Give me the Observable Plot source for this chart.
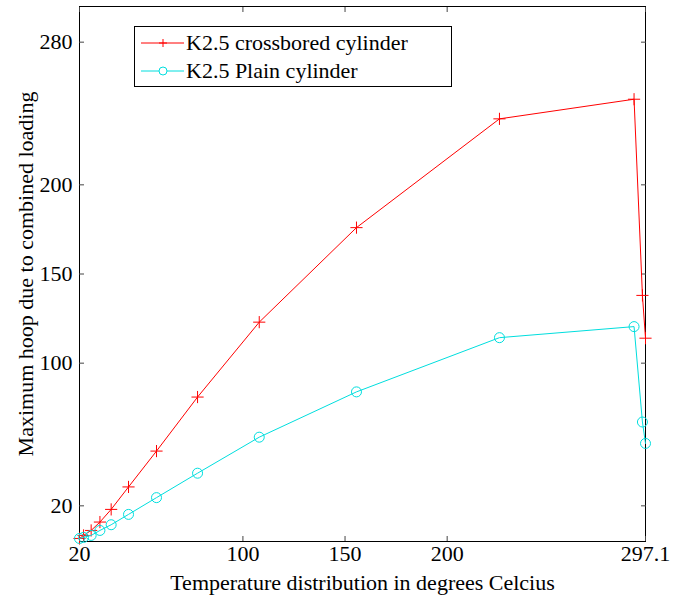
<!DOCTYPE html>
<html><head><meta charset="utf-8">
<script src="https://cdn.jsdelivr.net/npm/d3@7"></script>
<script src="https://cdn.jsdelivr.net/npm/@observablehq/plot@0.6"></script>
<style>
body{margin:0;background:#fff;font-family:'Liberation Serif', serif;font-size:22px;}
#wrap{position:relative;width:678px;height:599px;overflow:hidden;}
#wrap svg text{font-family:'Liberation Serif', serif !important;}
#legend{position:absolute;left:134px;top:26px;width:316px;height:59px;border:1px solid #000;background:#fff;}
.row{position:absolute;left:0;height:28px;line-height:28px;white-space:nowrap;}
.row svg{position:absolute;left:0;top:0;}
.row span{position:absolute;left:51px;top:0;}
</style></head><body><div id="wrap"></div>
<script>
const temperature = [20, 22, 25.7, 30, 35.5, 44, 57.7, 77.8, 108, 155.6, 225.6, 291.5, 295.6, 297.1];
const crossbored = [1.7, 3.4, 6.2, 10.9, 18, 30.6, 50.7, 81, 123, 176, 237, 248, 138, 114];
const plain = [1.7, 2.3, 3.4, 6.2, 9.4, 15.2, 24.6, 38.3, 58.5, 83.9, 114.3, 120.5, 67, 55];
const xTicks = [20, 100, 150, 200, 297.1];
const yTicks = [20, 100, 150, 200, 280];
const seriesNames = ["K2.5 crossbored cylinder", "K2.5 Plain cylinder"];
const seriesColors = ["#ff0000", "#00dede"];

const FONT = "'Liberation Serif', serif";
const redData = temperature.map((t, i) => ({t, v: crossbored[i]}));
const cyanData = temperature.map((t, i) => ({t, v: plain[i]}));
const fmt = d => String(d);

const chart = Plot.plot({
  width: 678, height: 599,
  marginLeft: 79, marginRight: 33, marginTop: 6, marginBottom: 58,
  style: {fontFamily: FONT, fontSize: "22px", background: "#fff", color: "#000"},
  x: {domain: [20, 297.1]},
  y: {domain: [0, 300]},
  marks: [
    Plot.frame({stroke: "#000", strokeWidth: 1}),
    Plot.axisX(xTicks, {tickSize: 0, tickPadding: 4, tickFormat: fmt, label: "Temperature distribution in degrees Celcius", labelAnchor: "center", labelArrow: false, labelOffset: 48}),
    Plot.axisX(xTicks, {tickSize: -5, tickFormat: () => "", label: null, stroke: "#444"}),
    Plot.axisX(xTicks, {anchor: "top", tickSize: -5, tickFormat: () => "", label: null, stroke: "#444"}),
    Plot.axisY(yTicks, {tickSize: 0, tickPadding: 7, tickFormat: fmt, label: "Maximum hoop due to combined loading", labelAnchor: "center", labelArrow: false, labelOffset: 62}),
    Plot.axisY(yTicks, {tickSize: -5, tickFormat: () => "", label: null, stroke: "#444"}),
    Plot.axisY(yTicks, {anchor: "right", tickSize: -5, tickFormat: () => "", label: null, stroke: "#444"}),
    Plot.line(redData, {x: "t", y: "v", stroke: seriesColors[0], strokeWidth: 1}),
    Plot.dot(redData, {x: "t", y: "v", symbol: "plus", stroke: seriesColors[0], fill: "none", r: 4, strokeWidth: 1}),
    Plot.line(cyanData, {x: "t", y: "v", stroke: seriesColors[1], strokeWidth: 1}),
    Plot.dot(cyanData, {x: "t", y: "v", symbol: "circle", stroke: seriesColors[1], fill: "none", r: 5, strokeWidth: 1})
  ]
});
const wrap = document.getElementById("wrap");
wrap.appendChild(chart);

const legend = document.createElement("div");
legend.id = "legend";
const ns = "http://www.w3.org/2000/svg";
seriesNames.forEach((name, i) => {
  const row = document.createElement("div");
  row.className = "row";
  row.style.top = (2 + i * 28) + "px";
  row.style.width = "316px";
  const s = document.createElementNS(ns, "svg");
  s.setAttribute("width", 50); s.setAttribute("height", 28);
  const cy = 14;
  const line = document.createElementNS(ns, "line");
  line.setAttribute("x1", 6); line.setAttribute("x2", 49);
  line.setAttribute("y1", cy); line.setAttribute("y2", cy);
  line.setAttribute("stroke", seriesColors[i]);
  s.appendChild(line);
  if (i === 0) {
    const p = document.createElementNS(ns, "path");
    p.setAttribute("d", `M24,${cy}H32M28,${cy-4}V${cy+4}`);
    p.setAttribute("stroke", seriesColors[i]);
    s.appendChild(p);
  } else {
    const c = document.createElementNS(ns, "circle");
    c.setAttribute("cx", 28); c.setAttribute("cy", cy); c.setAttribute("r", 4);
    c.setAttribute("stroke", seriesColors[i]); c.setAttribute("fill", "#fff");
    s.appendChild(c);
  }
  row.appendChild(s);
  const span = document.createElement("span");
  span.textContent = name;
  row.appendChild(span);
  legend.appendChild(row);
});
wrap.appendChild(legend);
</script></body></html>
